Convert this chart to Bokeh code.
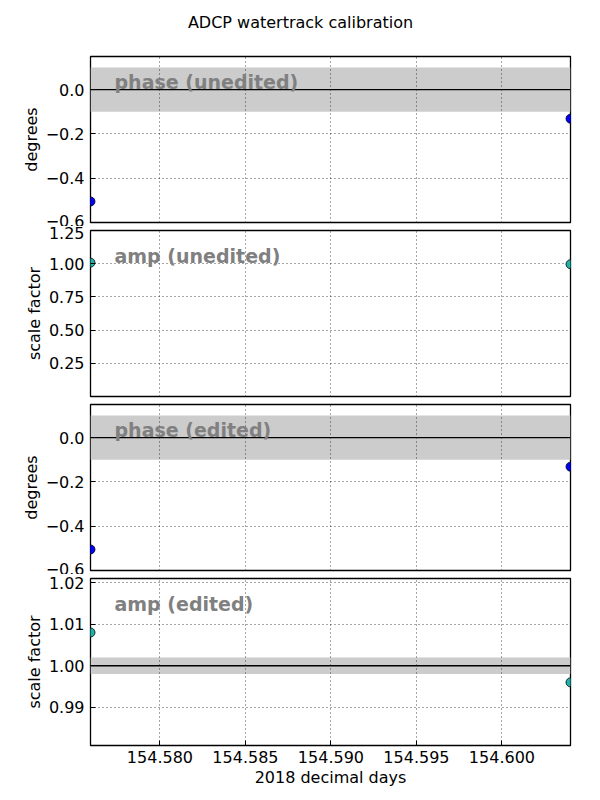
from bokeh.plotting import figure
from bokeh.layouts import column
from bokeh.models import Range1d, FixedTicker, BoxAnnotation, Span, Label
from bokeh.embed import file_html
from bokeh.resources import INLINE

# ---- data ----
times = [154.57594, 154.60401]
phase_unedited = [-0.505, -0.131]
amp_unedited = [1.008, 0.996]
phase_edited = [-0.505, -0.131]
amp_edited = [1.008, 0.996]

x_ticks = [154.580, 154.585, 154.590, 154.595, 154.600]
x_tick_labels = ["154.580", "154.585", "154.590", "154.595", "154.600"]

phase_ticks = [-0.6, -0.4, -0.2, 0.0]
phase_tick_labels = ["\u22120.6", "\u22120.4", "\u22120.2", "0.0"]
amp_u_ticks = [0.25, 0.5, 0.75, 1.0, 1.25]
amp_u_tick_labels = ["0.25", "0.50", "0.75", "1.00", "1.25"]
amp_e_ticks = [0.99, 1.00, 1.01, 1.02]
amp_e_tick_labels = ["0.99", "1.00", "1.01", "1.02"]

title_text = "ADCP watertrack calibration"
x_label = "2018 decimal days"

FONT = "DejaVu Sans"
XR = (154.57594, 154.60401)

panels = [
    dict(y=phase_unedited, yr=(-0.6, 0.15), ticks=phase_ticks, labels=phase_tick_labels,
         ylabel="degrees", text="phase (unedited)", band=(-0.1, 0.1), ref=0.0, color="#0000ff"),
    dict(y=amp_unedited, yr=(0.0, 1.25), ticks=amp_u_ticks, labels=amp_u_tick_labels,
         ylabel="scale factor", text="amp (unedited)", band=None, ref=None, color="#20b2aa"),
    dict(y=phase_edited, yr=(-0.6, 0.15), ticks=phase_ticks, labels=phase_tick_labels,
         ylabel="degrees", text="phase (edited)", band=(-0.1, 0.1), ref=0.0, color="#0000ff"),
    dict(y=amp_edited, yr=(0.9808, 1.021), ticks=amp_e_ticks, labels=amp_e_tick_labels,
         ylabel="scale factor", text="amp (edited)", band=(0.998, 1.002), ref=1.0, color="#20b2aa"),
]

# ---- title strip ----
TITLE_H = 48
tfig = figure(width=600, height=TITLE_H, x_range=Range1d(0, 600), y_range=Range1d(0, TITLE_H),
              output_backend="svg", toolbar_location=None,
              min_border_left=0, min_border_right=0, min_border_top=0, min_border_bottom=0)
tfig.axis.visible = False
tfig.grid.visible = False
tfig.outline_line_color = None
tfig.add_layout(Label(x=262.5, y=TITLE_H - 22, text=title_text, text_font=FONT,
                      text_font_size="16px", text_color="black",
                      text_align="center", text_baseline="middle"))

figs = [tfig]
n = len(panels)
for i, pd_ in enumerate(panels):
    first = i == 0
    last = i == n - 1
    top = 8 if first else 4
    bottom = 55 if last else 4
    frame_h = 167 if last else 166
    p = figure(width=600, height=top + frame_h + bottom,
               x_range=Range1d(*XR), y_range=Range1d(*pd_["yr"]),
               output_backend="svg", toolbar_location=None,
               min_border_left=90, min_border_right=30,
               min_border_top=top, min_border_bottom=bottom)

    p.outline_line_color = "black"
    p.outline_line_width = 1.3
    p.outline_line_alpha = 1.0

    # band + reference line
    if pd_["band"] is not None:
        p.add_layout(BoxAnnotation(bottom=pd_["band"][0], top=pd_["band"][1],
                                   fill_color="#cccccc", fill_alpha=1.0,
                                   line_color=None, level="image"))
    if pd_["ref"] is not None:
        p.add_layout(Span(location=pd_["ref"], dimension="width",
                          line_color="black", line_width=1.3))

    # grid
    for g in (p.xgrid, p.ygrid):
        g.grid_line_color = "black"
        g.grid_line_dash = "1 3"
        g.grid_line_alpha = 0.7
        g.grid_line_width = 1
    p.xgrid.ticker = FixedTicker(ticks=x_ticks)
    p.ygrid.ticker = FixedTicker(ticks=pd_["ticks"])

    # y axis
    ya = p.yaxis[0]
    ya.ticker = FixedTicker(ticks=pd_["ticks"])
    ya.major_label_overrides = {t: l for t, l in zip(pd_["ticks"], pd_["labels"])}
    ya.axis_label = pd_["ylabel"]
    ya.axis_label_text_font = FONT
    ya.axis_label_text_font_size = "16px"
    ya.axis_label_text_font_style = "normal"
    ya.axis_label_text_color = "black"
    ya.axis_label_standoff = 2
    ya.major_label_text_font = FONT
    ya.major_label_text_font_size = "16px"
    ya.major_label_text_color = "black"
    ya.major_label_standoff = 6
    ya.major_tick_in = 5
    ya.major_tick_out = 0
    ya.minor_tick_line_color = None
    ya.axis_line_color = None
    ya.major_tick_line_color = "black"

    # x axis
    xa = p.xaxis[0]
    if last:
        xa.ticker = FixedTicker(ticks=x_ticks)
        xa.major_label_overrides = {t: l for t, l in zip(x_ticks, x_tick_labels)}
        xa.axis_label = x_label
        xa.axis_label_text_font = FONT
        xa.axis_label_text_font_size = "16px"
        xa.axis_label_text_font_style = "normal"
        xa.axis_label_text_color = "black"
        xa.axis_label_standoff = 2
        xa.major_label_text_font = FONT
        xa.major_label_text_font_size = "16px"
        xa.major_label_text_color = "black"
        xa.major_label_standoff = 5
        xa.major_tick_in = 5
        xa.major_tick_out = 0
        xa.minor_tick_line_color = None
        xa.axis_line_color = None
        xa.major_tick_line_color = "black"
    else:
        xa.visible = False

    # points
    p.scatter(times, pd_["y"], size=9, fill_color=pd_["color"],
              line_color="black", line_width=0.8)

    # panel label at axes fraction (0.05, 0.8)
    y0, y1 = pd_["yr"]
    p.add_layout(Label(x=XR[0] + 0.05 * (XR[1] - XR[0]), y=y0 + 0.8 * (y1 - y0),
                       y_offset=8,
                       text=pd_["text"], text_font=FONT, text_font_size="19px",
                       text_font_style="bold", text_color="#808080",
                       text_baseline="alphabetic", text_align="left"))
    figs.append(p)

layout = column(*figs, spacing=0)
open("out.html", "w").write(file_html(layout, INLINE))
